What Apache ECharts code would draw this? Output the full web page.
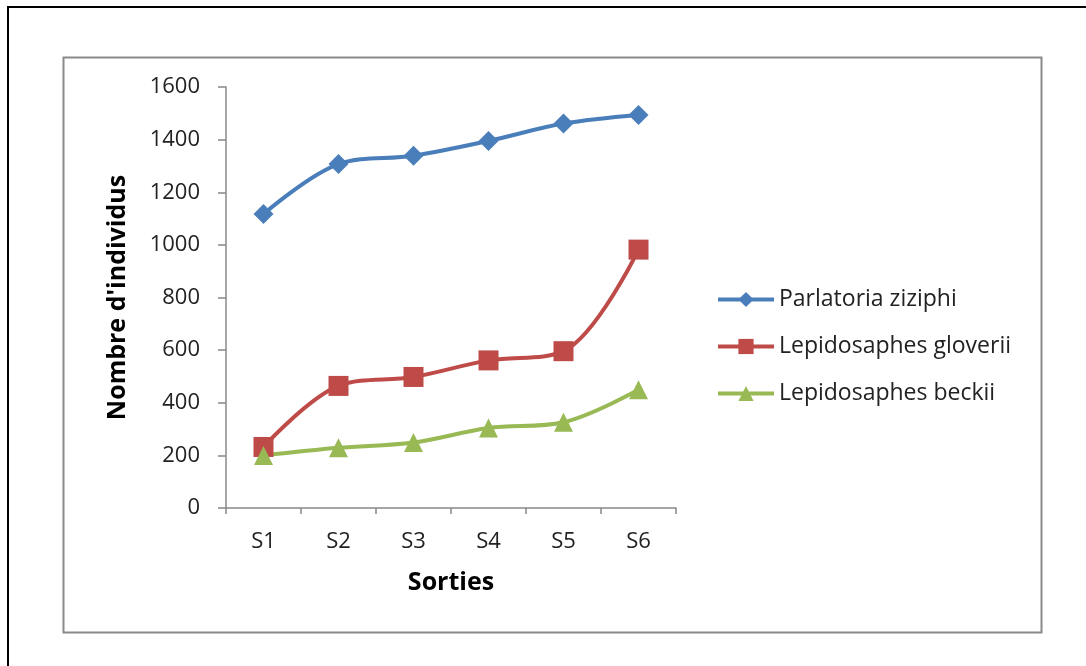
<!DOCTYPE html>
<html>
<head>
<meta charset="utf-8">
<script src="https://cdn.jsdelivr.net/npm/echarts@6/dist/echarts.min.js"></script>
<style>
  html, body { margin: 0; padding: 0; background: #fff; }
  #chart { width: 1086px; height: 666px; }
</style>
</head>
<body>
<div id="chart"></div>
<script>
// Sampling rounds
const categories = ['S1', 'S2', 'S3', 'S4', 'S5', 'S6'];

// Number of individuals per species
const parlatoriaZiziphi = [1117, 1307, 1339, 1395, 1461, 1494];
const lepidosaphesGloverii = [232, 464, 498, 561, 596, 982];
const lepidosaphesBeckii = [200, 229, 249, 304, 326, 449];

const seriesNames = ['Parlatoria ziziphi', 'Lepidosaphes gloverii', 'Lepidosaphes beckii'];
const yTicks = { min: 0, max: 1600, interval: 200 };

const FONT = 'Open Sans';
const colors = ['#4A7EBB', '#BE4B48', '#98B954'];

const chart = echarts.init(document.getElementById('chart'), null, { renderer: 'canvas' });

function lineSeries(name, data, symbol, size, color) {
  return {
    name: name,
    type: 'line',
    data: data,
    smooth: 0.35,
    symbol: symbol,
    symbolSize: size,
    lineStyle: { width: 4, color: color },
    itemStyle: { color: color },
    emphasis: { disabled: true }
  };
}

chart.setOption({
  animation: false,
  backgroundColor: '#fff',
  graphic: [
    // outer frame
    { type: 'rect', shape: { x: 8, y: 7, width: 1100, height: 700 },
      style: { fill: 'none', stroke: '#000', lineWidth: 2 }, z: -1 },
    // chart area frame
    { type: 'rect', shape: { x: 63.5, y: 57.5, width: 978, height: 575 },
      style: { fill: 'none', stroke: '#8a8a8a', lineWidth: 2 }, z: -1 }
  ],
  grid: { left: 226, top: 87, right: 410, bottom: 158, containLabel: false },
  legend: {
    orient: 'vertical',
    left: 716,
    top: 288,
    padding: 0,
    itemWidth: 56,
    itemHeight: 19,
    itemGap: 24,
    lineStyle: { width: 4 },
    textStyle: { fontFamily: FONT, fontSize: 23, color: '#222' },
    data: seriesNames
  },
  xAxis: {
    type: 'category',
    data: categories,
    boundaryGap: true,
    name: 'Sorties',
    nameLocation: 'middle',
    nameGap: 62,
    nameTextStyle: { fontFamily: FONT, fontSize: 25, fontWeight: 'bold', color: '#000' },
    axisLine: { lineStyle: { color: '#888', width: 1.5 } },
    axisTick: { show: true, length: 6, alignWithLabel: false, lineStyle: { color: '#888', width: 1.5 } },
    axisLabel: { fontFamily: FONT, fontSize: 22, color: '#222', margin: 23 },
    splitLine: { show: false }
  },
  yAxis: {
    type: 'value',
    min: yTicks.min,
    max: yTicks.max,
    interval: yTicks.interval,
    name: "Nombre d'individus",
    nameLocation: 'middle',
    nameGap: 96,
    nameTextStyle: { fontFamily: FONT, fontSize: 25, fontWeight: 'bold', color: '#000' },
    axisLine: { show: true, lineStyle: { color: '#888', width: 1.5 } },
    axisTick: { show: true, length: 8, lineStyle: { color: '#888', width: 1.5 } },
    axisLabel: { fontFamily: FONT, fontSize: 22, color: '#222', margin: 26,
                 formatter: function (v) { return String(v); } },
    splitLine: { show: false }
  },
  series: [
    lineSeries(seriesNames[0], parlatoriaZiziphi, 'diamond', 20, colors[0]),
    lineSeries(seriesNames[1], lepidosaphesGloverii, 'rect', 20, colors[1]),
    lineSeries(seriesNames[2], lepidosaphesBeckii, 'triangle', 19, colors[2])
  ]
});
</script>
</body>
</html>
